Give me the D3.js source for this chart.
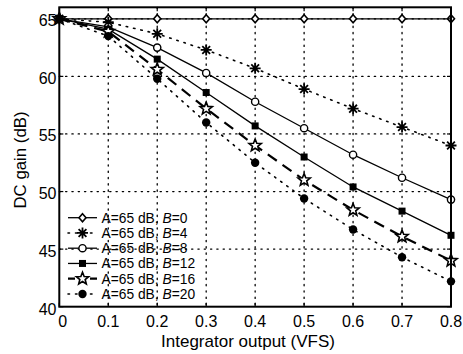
<!DOCTYPE html>
<html lang="en">
<head>
<meta charset="UTF-8">
<title>DC gain vs integrator output</title>
<style>
  body { margin: 0; background: #fff; }
  svg { display: block; font-family: 'Liberation Sans', Arial, sans-serif; }
</style>
</head>
<body>
<svg width="463" height="354"></svg>
<script src="https://d3js.org/d3.v7.min.js"></script>
<script>
const xs = [0, 0.1, 0.2, 0.3, 0.4, 0.5, 0.6, 0.7, 0.8];
const b0  = [65, 65, 65, 65, 65, 65, 65, 65, 65];
const b4  = [65, 64.7, 63.7, 62.3, 60.7, 58.9, 57.2, 55.6, 54.0];
const b8  = [65, 64.3, 62.5, 60.3, 57.8, 55.5, 53.2, 51.2, 49.3];
const b12 = [65, 64.1, 61.5, 58.6, 55.7, 53.0, 50.4, 48.3, 46.2];
const b16 = [65, 63.9, 60.6, 57.2, 54.0, 51.0, 48.4, 46.1, 44.0];
const b20 = [65, 63.5, 59.8, 56.0, 52.5, 49.4, 46.7, 44.3, 42.2];
const seriesNames = ["A=65 dB, ", "A=65 dB, ", "A=65 dB, ", "A=65 dB, ", "A=65 dB, ", "A=65 dB, "];
const bValues = [0, 4, 8, 12, 16, 20];
const xTicks = [0, 0.1, 0.2, 0.3, 0.4, 0.5, 0.6, 0.7, 0.8];
const yTicks = [40, 45, 50, 55, 60, 65];

const series = [
  { vals: b0,  dash: null,    width: 1.3, marker: "diamond" },
  { vals: b4,  dash: "1.5,6", width: 1.6, marker: "asterisk" },
  { vals: b8,  dash: null,    width: 1.3, marker: "ocircle" },
  { vals: b12, dash: null,    width: 1.3, marker: "square" },
  { vals: b16, dash: "11,7",  width: 2.2, marker: "star" },
  { vals: b20, dash: "1.5,6", width: 1.6, marker: "dot" }
];

const svg = d3.select("svg");
const x = d3.scaleLinear().domain([0, 0.8]).range([59.3, 451]);
const y = d3.scaleLinear().domain([40, 66]).range([306.7, 7.3]);

// grid
const grid = svg.append("g").attr("stroke", "#000").attr("stroke-width", 1.3)
  .attr("stroke-dasharray", "1.3,5").attr("stroke-linecap", "round");
grid.selectAll(".gx").data(xTicks.slice(1, -1)).join("line")
  .attr("x1", d => x(d)).attr("x2", d => x(d)).attr("y1", y(66)).attr("y2", y(40));
grid.selectAll(".gy").data(yTicks.slice(1)).join("line")
  .attr("x1", x(0)).attr("x2", x(0.8)).attr("y1", d => y(d)).attr("y2", d => y(d));

// markers
function drawMarker(g, type, cx, cy) {
  if (type === "diamond") {
    g.append("path").attr("d", `M${cx},${cy-4}L${cx+3.5},${cy}L${cx},${cy+4}L${cx-3.5},${cy}Z`)
      .attr("fill", "#fff").attr("stroke", "#000").attr("stroke-width", 1.6);
  } else if (type === "asterisk") {
    const r = 5.5;
    let d = "";
    for (let i = 0; i < 4; i++) {
      const a = i * Math.PI / 4;
      d += `M${cx - r*Math.cos(a)},${cy - r*Math.sin(a)}L${cx + r*Math.cos(a)},${cy + r*Math.sin(a)}`;
    }
    g.append("path").attr("d", d).attr("stroke", "#000").attr("stroke-width", 1.8);
  } else if (type === "ocircle") {
    g.append("circle").attr("cx", cx).attr("cy", cy).attr("r", 3.6)
      .attr("fill", "#fff").attr("stroke", "#000").attr("stroke-width", 1.4);
  } else if (type === "square") {
    g.append("rect").attr("x", cx - 3.5).attr("y", cy - 3.5).attr("width", 7).attr("height", 7)
      .attr("fill", "#000");
  } else if (type === "star") {
    const pts = [];
    for (let i = 0; i < 10; i++) {
      const r = i % 2 === 0 ? 6.5 : 2.8;
      const a = -Math.PI / 2 + i * Math.PI / 5;
      pts.push([cx + r * Math.cos(a), cy + r * Math.sin(a)]);
    }
    g.append("path").attr("d", "M" + pts.join("L") + "Z")
      .attr("fill", "#fff").attr("stroke", "#000").attr("stroke-width", 1.6);
  } else if (type === "dot") {
    g.append("circle").attr("cx", cx).attr("cy", cy).attr("r", 4.2).attr("fill", "#000");
  }
}

const line = d3.line().x((d, i) => x(xs[i])).y(d => y(d));
series.forEach(s => {
  svg.append("path").attr("d", line(s.vals)).attr("fill", "none")
    .attr("stroke", "#000").attr("stroke-width", s.width)
    .attr("stroke-dasharray", s.dash).attr("stroke-linecap", s.dash && s.dash.startsWith("1.5") ? "round" : "butt");
});
series.forEach(s => {
  const g = svg.append("g");
  s.vals.forEach((v, i) => drawMarker(g, s.marker, x(xs[i]), y(v)));
});

// frame
svg.append("rect").attr("x", x(0)).attr("y", y(66)).attr("width", x(0.8) - x(0)).attr("height", y(40) - y(66))
  .attr("fill", "none").attr("stroke", "#000").attr("stroke-width", 2);

// ticks (inward, both sides)
const tk = svg.append("g").attr("stroke", "#000").attr("stroke-width", 1.2);
xTicks.forEach(t => {
  tk.append("line").attr("x1", x(t)).attr("x2", x(t)).attr("y1", y(40)).attr("y2", y(40) - 4);
  tk.append("line").attr("x1", x(t)).attr("x2", x(t)).attr("y1", y(66)).attr("y2", y(66) + 4);
});
yTicks.forEach(t => {
  tk.append("line").attr("x1", x(0)).attr("x2", x(0) + 4).attr("y1", y(t)).attr("y2", y(t));
  tk.append("line").attr("x1", x(0.8)).attr("x2", x(0.8) - 4).attr("y1", y(t)).attr("y2", y(t));
});

// tick labels
svg.append("g").selectAll("text").data(xTicks).join("text")
  .attr("x", d => x(d) + (d === 0 ? 3.5 : 0)).attr("y", 326.7).attr("text-anchor", "middle")
  .attr("font-size", 16).text(d => d === 0 ? "0" : d3.format(".1f")(d));
svg.append("g").selectAll("text").data(yTicks).join("text")
  .attr("x", 56.5).attr("y", d => y(d) + (d === 40 ? 8.3 : 7.5)).attr("text-anchor", "end")
  .attr("font-size", 16).text(d => d);

// axis titles
svg.append("text").attr("x", 248).attr("y", 347).attr("text-anchor", "middle")
  .attr("font-size", 17).text("Integrator output (VFS)");
svg.append("text").attr("transform", "translate(25.5,160) rotate(-90)").attr("text-anchor", "middle")
  .attr("font-size", 16.8).text("DC gain (dB)");

// legend
const legY0 = 217.7, legDy = 15.25;
series.forEach((s, i) => {
  const ly = legY0 + i * legDy;
  svg.append("line").attr("x1", 68).attr("x2", 97).attr("y1", ly).attr("y2", ly)
    .attr("stroke", "#000").attr("stroke-width", s.width).attr("stroke-dasharray", s.dash ? (s.dash.startsWith("1.5") ? "1.5,6" : "7,4") : null)
    .attr("stroke-linecap", s.dash && s.dash.startsWith("1.5") ? "round" : "butt");
  drawMarker(svg.append("g"), s.marker, 82.5, ly);
  const t = svg.append("text").attr("x", 101.5).attr("y", ly + 5).attr("font-size", 13.8);
  t.append("tspan").text(seriesNames[i]);
  t.append("tspan").attr("font-style", "italic").text("B");
  t.append("tspan").text("=" + bValues[i]);
});
</script>
</body>
</html>
